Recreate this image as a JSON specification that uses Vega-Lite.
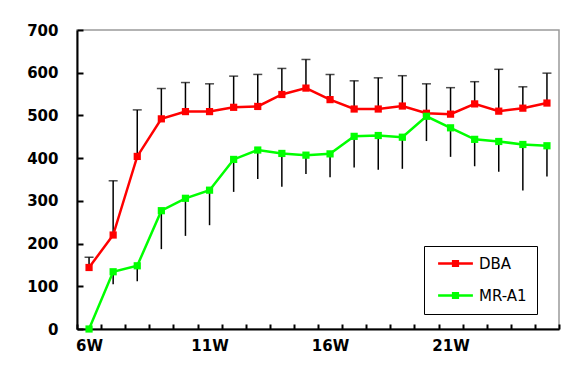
{
  "$schema": "https://vega.github.io/schema/vega-lite/v6.json",
  "width": 482,
  "height": 299,
  "autosize": {"type": "none"},
  "padding": {"left": 77, "top": 30, "right": 19, "bottom": 54},
  "background": "white",
  "config": {
    "view": {"stroke": "#9a9a9a", "strokeWidth": 1.5},
    "axis": {
      "labelFont": "DejaVu Sans",
      "labelFontWeight": "bold",
      "labelFontSize": 15,
      "labelColor": "black",
      "domainColor": "black",
      "domainWidth": 2,
      "tickColor": "black",
      "tickWidth": 2,
      "grid": false,
      "title": null
    }
  },
  "data": {
    "values": [
      {"week": "6W", "series": "DBA", "value": 144, "err": 168},
      {"week": "6W", "series": "MR-A1", "value": 0, "err": null},
      {"week": "7W", "series": "DBA", "value": 220, "err": 347},
      {"week": "7W", "series": "MR-A1", "value": 134, "err": 105},
      {"week": "8W", "series": "DBA", "value": 404, "err": 513},
      {"week": "8W", "series": "MR-A1", "value": 148, "err": 112},
      {"week": "9W", "series": "DBA", "value": 492, "err": 563},
      {"week": "9W", "series": "MR-A1", "value": 277, "err": 187},
      {"week": "10W", "series": "DBA", "value": 509, "err": 577},
      {"week": "10W", "series": "MR-A1", "value": 306, "err": 218},
      {"week": "11W", "series": "DBA", "value": 509, "err": 574},
      {"week": "11W", "series": "MR-A1", "value": 325, "err": 243},
      {"week": "12W", "series": "DBA", "value": 519, "err": 592},
      {"week": "12W", "series": "MR-A1", "value": 397, "err": 321},
      {"week": "13W", "series": "DBA", "value": 521, "err": 596},
      {"week": "13W", "series": "MR-A1", "value": 419, "err": 351},
      {"week": "14W", "series": "DBA", "value": 549, "err": 610},
      {"week": "14W", "series": "MR-A1", "value": 411, "err": 333},
      {"week": "15W", "series": "DBA", "value": 564, "err": 631},
      {"week": "15W", "series": "MR-A1", "value": 407, "err": 363},
      {"week": "16W", "series": "DBA", "value": 537, "err": 596},
      {"week": "16W", "series": "MR-A1", "value": 410, "err": 355},
      {"week": "17W", "series": "DBA", "value": 515, "err": 581},
      {"week": "17W", "series": "MR-A1", "value": 451, "err": 378},
      {"week": "18W", "series": "DBA", "value": 515, "err": 588},
      {"week": "18W", "series": "MR-A1", "value": 453, "err": 373},
      {"week": "19W", "series": "DBA", "value": 522, "err": 593},
      {"week": "19W", "series": "MR-A1", "value": 449, "err": 375},
      {"week": "20W", "series": "DBA", "value": 505, "err": 574},
      {"week": "20W", "series": "MR-A1", "value": 498, "err": 440},
      {"week": "21W", "series": "DBA", "value": 503, "err": 565},
      {"week": "21W", "series": "MR-A1", "value": 471, "err": 403},
      {"week": "22W", "series": "DBA", "value": 527, "err": 579},
      {"week": "22W", "series": "MR-A1", "value": 444, "err": 381},
      {"week": "23W", "series": "DBA", "value": 510, "err": 608},
      {"week": "23W", "series": "MR-A1", "value": 439, "err": 368},
      {"week": "24W", "series": "DBA", "value": 517, "err": 567},
      {"week": "24W", "series": "MR-A1", "value": 432, "err": 324},
      {"week": "25W", "series": "DBA", "value": 529, "err": 599},
      {"week": "25W", "series": "MR-A1", "value": 429, "err": 357}
    ]
  },
  "encoding": {
    "x": {
      "field": "week",
      "type": "ordinal",
      "sort": null,
      "scale": {"paddingInner": 0, "paddingOuter": 0},
      "axis": {
        "labelAngle": 0,
        "tickBand": "extent",
        "tickSize": -5,
        "labelPadding": 14,
        "labelExpr": "indexof(['6W','11W','16W','21W'], datum.value) >= 0 ? datum.value : ''"
      }
    }
  },
  "layer": [
    {
      "transform": [{"filter": "isValid(datum.err)"}],
      "mark": {"type": "rule", "color": "black", "strokeWidth": 1.5},
      "encoding": {
        "y": {"field": "value", "type": "quantitative"},
        "y2": {"field": "err"}
      }
    },
    {
      "transform": [{"filter": "datum.series === 'DBA'"}],
      "mark": {"type": "tick", "color": "black", "size": 9, "thickness": 1.5, "orient": "horizontal"},
      "encoding": {
        "y": {"field": "err", "type": "quantitative"}
      }
    },
    {
      "mark": {"type": "line", "strokeWidth": 2.5},
      "encoding": {
        "y": {
          "field": "value",
          "type": "quantitative",
          "scale": {"domain": [0, 700], "nice": false},
          "axis": {"values": [0, 100, 200, 300, 400, 500, 600, 700], "tickSize": -6, "labelPadding": 25}
        },
        "color": {
          "field": "series",
          "type": "nominal",
          "scale": {"domain": ["DBA", "MR-A1"], "range": ["#ff0000", "#00ff00"]},
          "legend": {
            "title": null,
            "orient": "none",
            "legendX": 347,
            "legendY": 216,
            "strokeColor": "black",
            "fillColor": "white",
            "padding": 10,
            "rowPadding": 16,
            "labelFont": "DejaVu Sans",
            "labelFontSize": 15,
            "labelColor": "black",
            "labelOffset": 16,
            "symbolOffset": 14,
            "symbolType": "M-2.9,-0.2H2.9V0.2H-2.9Z M-0.6,-0.6H0.6V0.6H-0.6Z",
            "symbolSize": 144,
            "symbolStrokeWidth": 0,
            "symbolOpacity": 1
          }
        }
      }
    },
    {
      "mark": {"type": "point", "shape": "square", "filled": true, "size": 52, "opacity": 1},
      "encoding": {
        "y": {"field": "value", "type": "quantitative"},
        "color": {"field": "series", "type": "nominal"}
      }
    }
  ]
}
